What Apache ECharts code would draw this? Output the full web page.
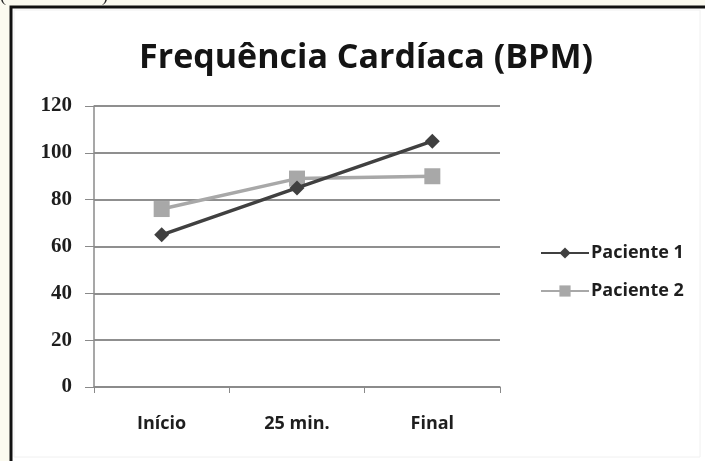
<!DOCTYPE html>
<html>
<head>
<meta charset="utf-8">
<script src="https://cdn.jsdelivr.net/npm/echarts@6/dist/echarts.min.js"></script>
<style>
html,body{margin:0;padding:0;background:#fbfaf0;}
#c{width:705px;height:461px;}
</style>
</head>
<body>
<div id="c"></div>
<script>
var categories = ['Início', '25 min.', 'Final'];
var paciente1 = [65, 85, 105];
var paciente2 = [76, 89, 90];
var seriesNames = ['Paciente 1', 'Paciente 2'];
var titleText = 'Frequência Cardíaca (BPM)';

var chart = echarts.init(document.getElementById('c'), null, {renderer: 'canvas'});
chart.setOption({
  backgroundColor: '#fbfaf0',
  animation: false,
  graphic: [
    {type: 'rect', shape: {x: 11, y: 7, width: 700, height: 460}, style: {fill: '#ffffff', stroke: '#111', lineWidth: 3}, z: -10},
    {type: 'rect', shape: {x: 14, y: 10, width: 686, height: 447}, style: {fill: 'none', stroke: '#f0f0f0', lineWidth: 1}, z: -9},
    {type: 'text', left: 0, top: -13, style: {text: '(', font: '18px "Liberation Serif"', fill: '#222'}},
    {type: 'text', left: 102, top: -13, style: {text: ')', font: '18px "Liberation Serif"', fill: '#222'}}
  ],
  title: {
    text: titleText,
    left: 361, top: 36, textAlign: 'center',
    textStyle: {fontFamily: '"Open Sans"', fontWeight: 'bold', fontSize: 34, color: '#141414'}
  },
  legend: {
    orient: 'vertical',
    left: 535, top: 239,
    itemGap: 20,
    itemWidth: 48, itemHeight: 14,
    textStyle: {fontFamily: '"Open Sans"', fontWeight: 'bold', fontSize: 18, color: '#1e1e1e', padding: [0, 0, 0, -3]},
    data: seriesNames
  },
  grid: {left: 94, right: 205, top: 106, bottom: 74, containLabel: false},
  xAxis: {
    type: 'category', data: categories, boundaryGap: true,
    axisLine: {lineStyle: {color: '#8a8a8a', width: 1.5}},
    axisTick: {show: true, length: 6, inside: false, lineStyle: {color: '#8a8a8a'}},
    axisLabel: {margin: 28, fontFamily: '"Open Sans"', fontWeight: 'bold', fontSize: 18, color: '#1e1e1e'}
  },
  yAxis: {
    type: 'value', min: 0, max: 120, interval: 20,
    axisLine: {show: true, lineStyle: {color: '#8a8a8a', width: 1.5}},
    axisTick: {show: true, length: 9, lineStyle: {color: '#8a8a8a'}},
    splitLine: {lineStyle: {color: '#8f8f8f', width: 1.8}},
    axisLabel: {margin: 22, fontFamily: '"Liberation Serif"', fontWeight: 'bold', fontSize: 21, color: '#1e1e1e'}
  },
  series: [
    {name: seriesNames[0], type: 'line', data: paciente1,
     symbol: 'diamond', symbolSize: 15,
     itemStyle: {color: '#404040'},
     lineStyle: {color: '#404040', width: 3.5}, z: 3},
    {name: seriesNames[1], type: 'line', data: paciente2,
     symbol: 'rect', symbolSize: 16,
     itemStyle: {color: '#a8a8a8'},
     lineStyle: {color: '#a8a8a8', width: 3.5}, z: 2}
  ]
});
</script>
</body>
</html>
